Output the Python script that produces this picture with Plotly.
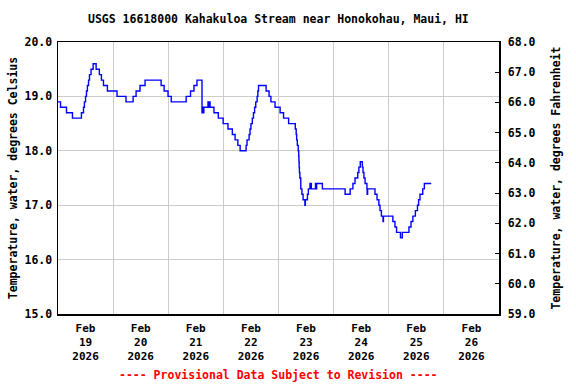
import pandas as pd
import plotly.graph_objects as go

# ---- data (hours after 2026-02-19 00:00 local, water temperature in deg C; step changes) ----
hours = [0.0, 1.1, 3.7, 6.3, 10.2, 11.1, 11.5, 12.0, 12.4, 12.8, 13.3, 13.7, 14.4, 15.3, 16.6, 18.0,
         18.9, 19.8, 21.5, 25.7, 29.6, 32.7, 34.0, 35.7, 37.9, 44.9, 46.2, 47.9, 49.3, 55.8, 57.7,
         59.2, 60.5, 62.7, 63.0, 63.2, 63.5, 65.3, 65.6, 65.9, 66.2, 67.9, 69.8, 71.9, 74.0, 75.9,
         77.1, 78.3, 79.3, 81.9, 82.3, 83.2, 83.6, 84.0, 84.6, 85.1, 85.6, 86.1, 86.7, 87.0, 87.3,
         90.6, 91.9, 92.7, 94.5, 96.7, 98.2, 100.4, 103.3, 103.7, 103.9, 104.2, 104.6, 104.8, 104.9,
         105.0, 105.1, 105.3, 105.7, 106.2, 106.7, 107.5, 107.7, 108.6, 109.0, 109.7, 110.3, 112.1,
         112.4, 112.6, 115.1, 125.0, 127.2, 128.4, 129.3, 130.5, 131.0, 131.6, 132.5, 132.8, 133.2,
         133.7, 134.5, 134.6, 134.8, 138.0, 138.9, 139.7, 140.2, 140.8, 141.5, 141.7, 145.8, 146.7,
         147.4, 149.1, 149.9, 152.8, 153.7, 154.5, 155.6, 156.5, 157.0, 157.6, 158.8, 159.5, 162.5]
temp_c = [18.9, 18.8, 18.7, 18.6, 18.7, 18.8, 18.9, 19.0, 19.1, 19.2, 19.3, 19.4, 19.5, 19.6, 19.5, 19.4,
          19.3, 19.2, 19.1, 19.0, 18.9, 19.0, 19.1, 19.2, 19.3, 19.2, 19.1, 19.0, 18.9, 19.0, 19.1,
          19.2, 19.3, 18.7, 18.8, 18.7, 18.8, 18.9, 18.8, 18.9, 18.8, 18.7, 18.6, 18.5, 18.4, 18.3,
          18.2, 18.1, 18.0, 18.1, 18.2, 18.3, 18.4, 18.5, 18.6, 18.7, 18.8, 18.9, 19.0, 19.1, 19.2,
          19.1, 19.0, 18.9, 18.8, 18.7, 18.6, 18.5, 18.4, 18.3, 18.2, 18.1, 18.0, 17.9, 17.8,
          17.7, 17.6, 17.5, 17.3, 17.2, 17.1, 17.0, 17.1, 17.2, 17.3, 17.4, 17.3, 17.4,
          17.3, 17.4, 17.3, 17.2, 17.3, 17.4, 17.5, 17.6, 17.7, 17.8, 17.7, 17.6, 17.5,
          17.4, 17.3, 17.2, 17.3, 17.2, 17.1, 17.0, 16.9, 16.8, 16.7, 16.8, 16.7, 16.6,
          16.5, 16.4, 16.5, 16.6, 16.7, 16.8, 16.9, 17.0, 17.1, 17.2, 17.3, 17.4, 17.4]

tick_days = ["2026-02-19", "2026-02-20", "2026-02-21", "2026-02-22",
             "2026-02-23", "2026-02-24", "2026-02-25", "2026-02-26"]
tick_labels = ["Feb<br>19<br>2026", "Feb<br>20<br>2026", "Feb<br>21<br>2026", "Feb<br>22<br>2026",
               "Feb<br>23<br>2026", "Feb<br>24<br>2026", "Feb<br>25<br>2026", "Feb<br>26<br>2026"]
celsius_ticks = [15.0, 16.0, 17.0, 18.0, 19.0, 20.0]
fahrenheit_ticks = [59.0, 60.0, 61.0, 62.0, 63.0, 64.0, 65.0, 66.0, 67.0, 68.0]

title = "USGS 16618000 Kahakuloa Stream near Honokohau, Maui, HI"
footer = "---- Provisional Data Subject to Revision ----"

base = pd.Timestamp("2026-02-19 00:00")
times = base + pd.to_timedelta(hours, unit="h")
tick_pos = [pd.Timestamp(d) + pd.Timedelta(hours=12) for d in tick_days]

FONT = dict(family="DejaVu Sans Mono", size=11.5, color="black", weight="bold")
XFONT = dict(family="DejaVu Sans Mono", size=11, color="black", weight="bold")

L, R, T, B = 58, 77, 42, 70
PH = 384 - T - B

fig = go.Figure()
fig.add_trace(go.Scatter(x=times, y=temp_c, mode="lines", line=dict(color="#0000ff", width=1.4, shape="hv"),
                         showlegend=False, hoverinfo="skip"))
# invisible trace to activate right axis
fig.add_trace(go.Scatter(x=[times[0]], y=[fahrenheit_ticks[0]], yaxis="y2", mode="markers",
                         marker=dict(opacity=0), showlegend=False, hoverinfo="skip"))

fig.update_layout(
    width=576, height=384,
    margin=dict(l=L, r=R, t=T, b=B, autoexpand=False),
    paper_bgcolor="white", plot_bgcolor="white",
    font=FONT,
    xaxis=dict(
        range=[base, base + pd.Timedelta(days=8)], automargin=False,
        tickmode="array", tickvals=tick_pos, ticktext=tick_labels,
        showgrid=False, ticks="", tickfont=XFONT, ticklabelstandoff=3,
        showline=True, linecolor="black", linewidth=1.5, mirror=True,
        minor=dict(tick0="2026-02-19", dtick=86400000, showgrid=True, gridcolor="#cccccc", gridwidth=1, ticks=""),
        zeroline=False,
    ),
    yaxis=dict(
        range=[15, 20], automargin=False, tickmode="array", tickvals=celsius_ticks,
        ticktext=[f"{v:.1f}" for v in celsius_ticks],
        showgrid=True, gridcolor="#cccccc", gridwidth=1,
        showline=True, linecolor="black", linewidth=1.5, mirror=True, ticks="",
        ticklabelstandoff=2,
        title=dict(text="Temperature, water, degrees Celsius", font=FONT, standoff=4),
        tickfont=FONT, zeroline=False,
    ),
    yaxis2=dict(
        range=[59, 68], automargin=False, overlaying="y", side="right", tickmode="array",
        tickvals=fahrenheit_ticks, ticktext=[f"{v:.1f}" for v in fahrenheit_ticks],
        showgrid=False, showline=True, linecolor="black", linewidth=1.5,
        ticks="inside", ticklen=4, tickcolor="black", ticklabelstandoff=5,
        title=dict(text="Temperature, water, degrees Fahrenheit", font=FONT, standoff=17),
        tickfont=FONT, zeroline=False,
    ),
    annotations=[
        dict(text=title, xref="paper", yref="paper", x=0.5, y=1 + (T - 19) / PH,
             xanchor="center", yanchor="middle", showarrow=False, font=FONT),
        dict(text=footer, xref="paper", yref="paper", x=0.5, y=-(375 - (384 - B)) / PH,
             xanchor="center", yanchor="middle", showarrow=False,
             font=dict(family="DejaVu Sans Mono", size=11.5, color="red", weight="bold")),
    ],
)

fig.write_html("out.html", config={"displayModeBar": False, "staticPlot": True},
               post_script="document.body.style.margin='0px'; document.body.style.overflow='hidden';")
